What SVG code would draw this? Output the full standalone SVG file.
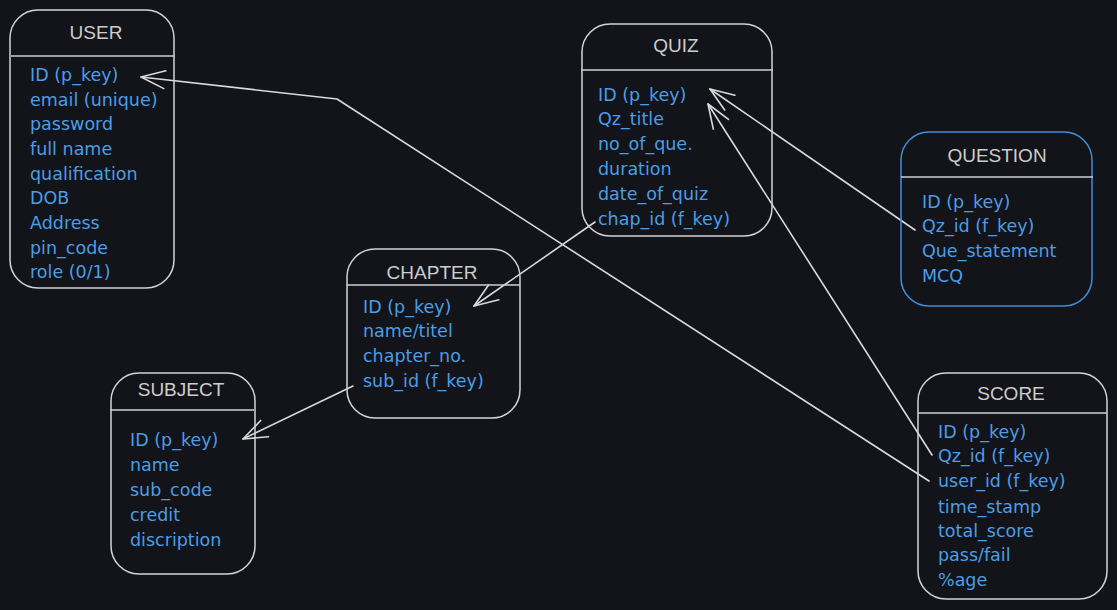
<svg xmlns="http://www.w3.org/2000/svg" width="1117" height="610" viewBox="0 0 1117 610">
<defs>
<style>
.box{fill:none;stroke:#d4d4d4;stroke-width:1.5}
.box.blue{stroke:#3f8fdc}
.div{stroke:#cfcfcf;stroke-width:1.5}
.title{font-family:"Liberation Sans",Arial,sans-serif;font-size:19px;fill:#cccccc;text-anchor:middle}
.f{font-family:"DejaVu Sans","Noto Sans",sans-serif;font-size:17.5px;fill:#4b9de6}
.con{fill:none;stroke:#dadada;stroke-width:1.6;stroke-linejoin:round;stroke-linecap:round}
</style>
<marker id="arr" markerUnits="userSpaceOnUse" markerWidth="40" markerHeight="30" refX="0" refY="0" viewBox="-30 -15 40 30" orient="auto" overflow="visible">
<path d="M-24,-9 L0,0 L-24,9" fill="none" stroke="#dadada" stroke-width="1.6" stroke-linecap="round" stroke-linejoin="round"/>
</marker>
</defs>
<rect width="1117" height="610" fill="#121419"/>

<g id="connectors">
<polyline class="con" points="929,481 337,99 141,77" marker-end="url(#arr)"/>
<line class="con" x1="595" y1="222" x2="474" y2="306" marker-end="url(#arr)"/>
<line class="con" x1="353" y1="386" x2="243" y2="439" marker-end="url(#arr)"/>
<line class="con" x1="915" y1="230" x2="710" y2="89" marker-end="url(#arr)"/>
<line class="con" x1="932" y1="455" x2="708" y2="104" marker-end="url(#arr)"/>
</g>

<g id="user">
<rect class="box" x="10" y="10" width="164" height="278" rx="28"/>
<line class="div" x1="11" y1="56" x2="175" y2="56"/>
<text class="title" x="96" y="39">USER</text>
<text class="f" x="30" y="81">ID (p_key)</text>
<text class="f" x="30" y="106">email (unique)</text>
<text class="f" x="30" y="130">password</text>
<text class="f" x="30" y="155">full name</text>
<text class="f" x="30" y="180">qualification</text>
<text class="f" x="30" y="204">DOB</text>
<text class="f" x="30" y="229">Address</text>
<text class="f" x="30" y="254">pin_code</text>
<text class="f" x="30" y="278">role (0/1)</text>
</g>

<g id="quiz">
<rect class="box" x="582" y="24" width="190" height="212" rx="28"/>
<line class="div" x1="581" y1="70" x2="773" y2="70"/>
<text class="title" x="676" y="52">QUIZ</text>
<text class="f" x="598" y="101">ID (p_key)</text>
<text class="f" x="598" y="125">Qz_title</text>
<text class="f" x="598" y="150">no_of_que.</text>
<text class="f" x="598" y="175">duration</text>
<text class="f" x="598" y="200">date_of_quiz</text>
<text class="f" x="598" y="225">chap_id (f_key)</text>
</g>

<g id="question">
<rect class="box blue" x="901" y="132" width="191" height="174" rx="28"/>
<line class="div" x1="901" y1="177" x2="1093" y2="177"/>
<text class="title" x="997" y="162">QUESTION</text>
<text class="f" x="922" y="208">ID (p_key)</text>
<text class="f" x="922" y="232">Qz_id (f_key)</text>
<text class="f" x="922" y="257">Que_statement</text>
<text class="f" x="922" y="282">MCQ</text>
</g>

<g id="chapter">
<rect class="box" x="347" y="249" width="173" height="169" rx="28"/>
<line class="div" x1="347" y1="285" x2="520" y2="285"/>
<text class="title" x="432" y="279">CHAPTER</text>
<text class="f" x="363" y="313">ID (p_key)</text>
<text class="f" x="363" y="337">name/titel</text>
<text class="f" x="363" y="362">chapter_no.</text>
<text class="f" x="363" y="387">sub_id (f_key)</text>
</g>

<g id="subject">
<rect class="box" x="111" y="373" width="144" height="201" rx="28"/>
<line class="div" x1="110" y1="410" x2="254" y2="410"/>
<text class="title" x="181" y="396">SUBJECT</text>
<text class="f" x="130" y="446">ID (p_key)</text>
<text class="f" x="130" y="471">name</text>
<text class="f" x="130" y="496">sub_code</text>
<text class="f" x="130" y="521">credit</text>
<text class="f" x="130" y="546">discription</text>
</g>

<g id="score">
<rect class="box" x="918" y="373" width="189" height="226" rx="28"/>
<line class="div" x1="918" y1="413" x2="1107" y2="413"/>
<text class="title" x="1011" y="400">SCORE</text>
<text class="f" x="938" y="438">ID (p_key)</text>
<text class="f" x="938" y="462">Qz_id (f_key)</text>
<text class="f" x="938" y="487">user_id (f_key)</text>
<text class="f" x="938" y="513">time_stamp</text>
<text class="f" x="938" y="537">total_score</text>
<text class="f" x="938" y="561">pass/fail</text>
<text class="f" x="938" y="586">%age</text>
</g>
</svg>
